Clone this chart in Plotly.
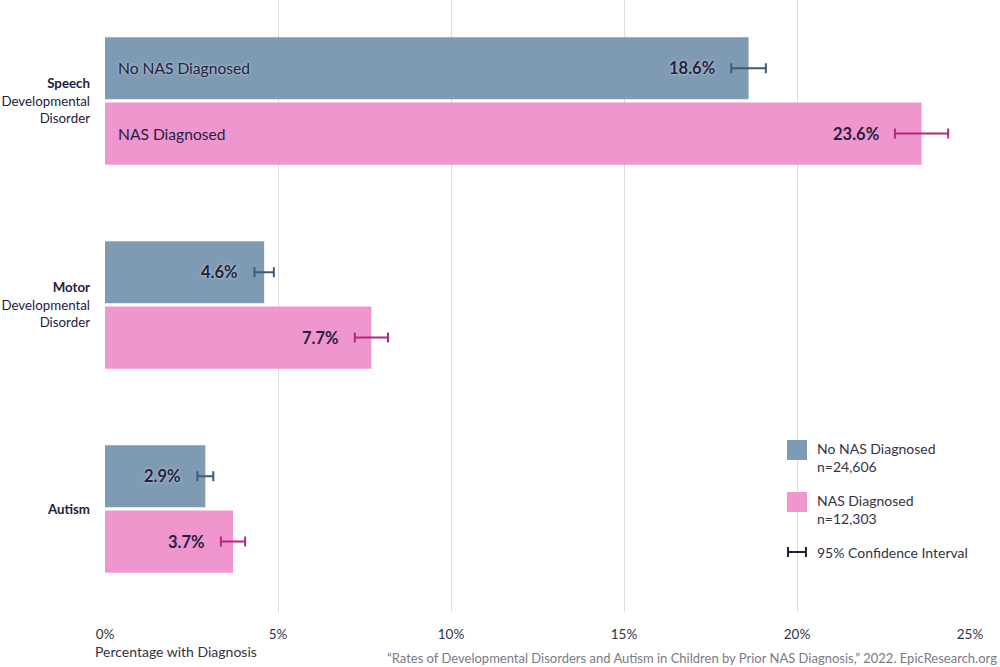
import plotly.graph_objects as go

categories = ["<b>Speech</b><br>Developmental<br>Disorder",
              "<b>Motor</b><br>Developmental<br>Disorder",
              "<b>Autism</b>"]
series_names = ["No NAS Diagnosed", "NAS Diagnosed"]
series_n = ["n=24,606", "n=12,303"]
no_nas = [18.6, 4.6, 2.9]
no_nas_err = [0.5, 0.28, 0.23]
nas = [23.6, 7.7, 3.7]
nas_err = [0.77, 0.48, 0.35]
x_ticks = [0, 5, 10, 15, 20, 25]
x_tick_labels = ["0%", "5%", "10%", "15%", "20%", "25%"]

BLUE = "#7f9bb3"
PINK = "#f096cf"
BLUE_ERR = "#3f5b77"
PINK_ERR = "#b3287c"
TXT = "#24213f"
FONT = "Lato"

W, H = 1000, 667
ML, MR, MT, MB = 105, 30, 0, 55
PW, PH = W - ML - MR, H - MT - MB


def px(x):
    return (x - ML) / PW


def py(y):
    return (H - MB - y) / PH


fig = go.Figure()
fig.add_trace(go.Bar(
    y=categories, x=no_nas, orientation="h", name=series_names[0],
    marker=dict(color=BLUE, line=dict(width=0)),
    error_x=dict(type="data", array=no_nas_err, color=BLUE_ERR, thickness=2, width=5),
    hoverinfo="x", showlegend=False,
))
fig.add_trace(go.Bar(
    y=categories, x=nas, orientation="h", name=series_names[1],
    marker=dict(color=PINK, line=dict(width=0)),
    error_x=dict(type="data", array=nas_err, color=PINK_ERR, thickness=2, width=5),
    hoverinfo="x", showlegend=False,
))

annotations = []
shifts = [33, -33]
vals = [no_nas, nas]
errs = [no_nas_err, nas_err]
shadows = ["0px 0px 3px #c9d5e1", "none"]
for s in range(2):
    for i, c in enumerate(categories):
        annotations.append(dict(
            x=vals[s][i] - errs[s][i], y=c, xref="x", yref="y",
            text=f"<b>{vals[s][i]:.1f}%</b>", showarrow=False,
            xanchor="right", yanchor="middle", xshift=-14, yshift=shifts[s],
            font=dict(family=FONT, size=16.5, color=TXT, shadow=shadows[s]),
        ))
    annotations.append(dict(
        x=0, y=categories[0], xref="x", yref="y", text=series_names[s],
        showarrow=False, xanchor="left", yanchor="middle", xshift=11, yshift=shifts[s],
        font=dict(family=FONT, size=15.6, color=TXT, shadow=shadows[s]),
    ))

# legend (custom)
shapes = []
leg_rows = [(440, BLUE), (492, PINK)]
for k, (top, col) in enumerate(leg_rows):
    shapes.append(dict(type="rect", xref="paper", yref="paper",
                       x0=px(787), x1=px(807), y0=py(top + 20), y1=py(top),
                       fillcolor=col, line=dict(width=0)))
    annotations.append(dict(x=px(815), y=py(top - 2), xref="paper", yref="paper",
                            text=f"{series_names[k]}<br>{series_n[k]}", showarrow=False,
                            xanchor="left", yanchor="top", align="left",
                            font=dict(family=FONT, size=14, color="#333344")))
ci_y = 552
shapes.append(dict(type="line", xref="paper", yref="paper", x0=px(788), x1=px(806),
                   y0=py(ci_y), y1=py(ci_y), line=dict(color=TXT, width=2)))
for xx in (788, 806):
    shapes.append(dict(type="line", xref="paper", yref="paper", x0=px(xx), x1=px(xx),
                       y0=py(ci_y - 5), y1=py(ci_y + 5), line=dict(color=TXT, width=2)))
annotations.append(dict(x=px(815), y=py(ci_y), xref="paper", yref="paper",
                        text="95% Confidence Interval", showarrow=False,
                        xanchor="left", yanchor="middle",
                        font=dict(family=FONT, size=14, color="#333344")))

annotations.append(dict(x=px(93), y=py(651), xref="paper", yref="paper",
                        text="Percentage with Diagnosis", showarrow=False,
                        xanchor="left", yanchor="middle",
                        font=dict(family=FONT, size=14, color="#333344")))
annotations.append(dict(x=px(999), y=py(658), xref="paper", yref="paper",
                        text="\u201cRates of Developmental Disorders and Autism in Children by Prior NAS Diagnosis,\u201d 2022. EpicResearch.org",
                        showarrow=False, xanchor="right", yanchor="middle",
                        font=dict(family=FONT, size=13, color="#7a7a85")))

fig.update_layout(
    width=W, height=H,
    margin=dict(l=ML, r=MR, t=MT, b=MB, pad=0),
    paper_bgcolor="white", plot_bgcolor="white",
    barmode="group", bargap=0.36, bargroupgap=0.05,
    font=dict(family=FONT, color=TXT, size=13),
    annotations=annotations, shapes=shapes,
    xaxis=dict(range=[0, 25], tickvals=x_ticks, ticktext=x_tick_labels,
               showgrid=True, gridcolor="#dddddd", gridwidth=1,
               zeroline=False, showline=False, ticks="", ticklabelstandoff=12,
               tickfont=dict(family=FONT, size=13.5, color="#333344")),
    yaxis=dict(range=[2.505, -0.495], showgrid=False, zeroline=False, showline=False,
               ticks="", ticklabelstandoff=14,
               tickfont=dict(family=FONT, size=13.3, color=TXT)),
)
fig.write_html("out.html")
